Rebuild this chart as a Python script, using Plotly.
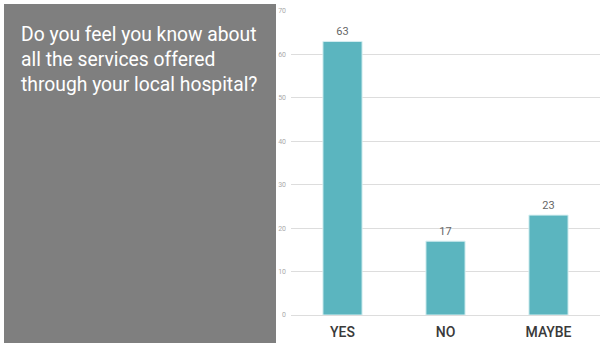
import plotly.graph_objects as go

categories = ["YES", "NO", "MAYBE"]
values = [63, 17, 23]
y_ticks = [0, 10, 20, 30, 40, 50, 60, 70]
title_lines = ["Do you feel you know about", "all the services offered", "through your local hospital?"]

W, H = 600, 346
L, R, T, B = 291, 0, 11, 31
pw, ph = W - L - R, H - T - B

def px_x(x):
    return (x - L) / pw

def px_y(y):
    return (H - B - y) / ph

fig = go.Figure(go.Bar(
    x=categories, y=values,
    text=[str(v) for v in values], textposition="outside",
    textfont=dict(family="Roboto, Liberation Sans, sans-serif", size=11, color="#666666"),
    marker=dict(color="#5BB5BF", line=dict(color="#D6EFF1", width=1)),
    width=0.38, cliponaxis=False,
))

fig.update_layout(
    width=W, height=H,
    margin=dict(l=L, r=R, t=T, b=B),
    paper_bgcolor="white", plot_bgcolor="white",
    showlegend=False,
    font=dict(family="Roboto, Liberation Sans, sans-serif"),
    xaxis=dict(showgrid=False, showline=False, ticks="", ticklabelstandoff=7,
               tickfont=dict(size=14, color="#3A3A3A", family="Roboto Medium, Roboto, sans-serif")),
    yaxis=dict(range=[0, 70], tickvals=y_ticks, showgrid=True, gridcolor="#DDDDDD",
               gridwidth=1, zeroline=True, zerolinecolor="#DDDDDD", zerolinewidth=1,
               tickfont=dict(size=7, color="#AAAAAA"), ticks="", ticklabelstandoff=4),
    shapes=[dict(type="rect", xref="paper", yref="paper",
                 x0=px_x(4), x1=px_x(276), y0=px_y(343), y1=px_y(4),
                 fillcolor="#7F7F7F", line=dict(width=0), layer="below")],
    annotations=[dict(xref="paper", yref="paper", x=px_x(19), y=px_y(21),
                      xanchor="left", yanchor="top", align="left", showarrow=False,
                      text="<br>".join(title_lines),
                      font=dict(size=19.3, color="white", family="Roboto, Liberation Sans, sans-serif"))],
)

fig.write_html("out.html", config={"displayModeBar": False},
               post_script="document.body.style.margin='0';document.body.style.padding='0';")
